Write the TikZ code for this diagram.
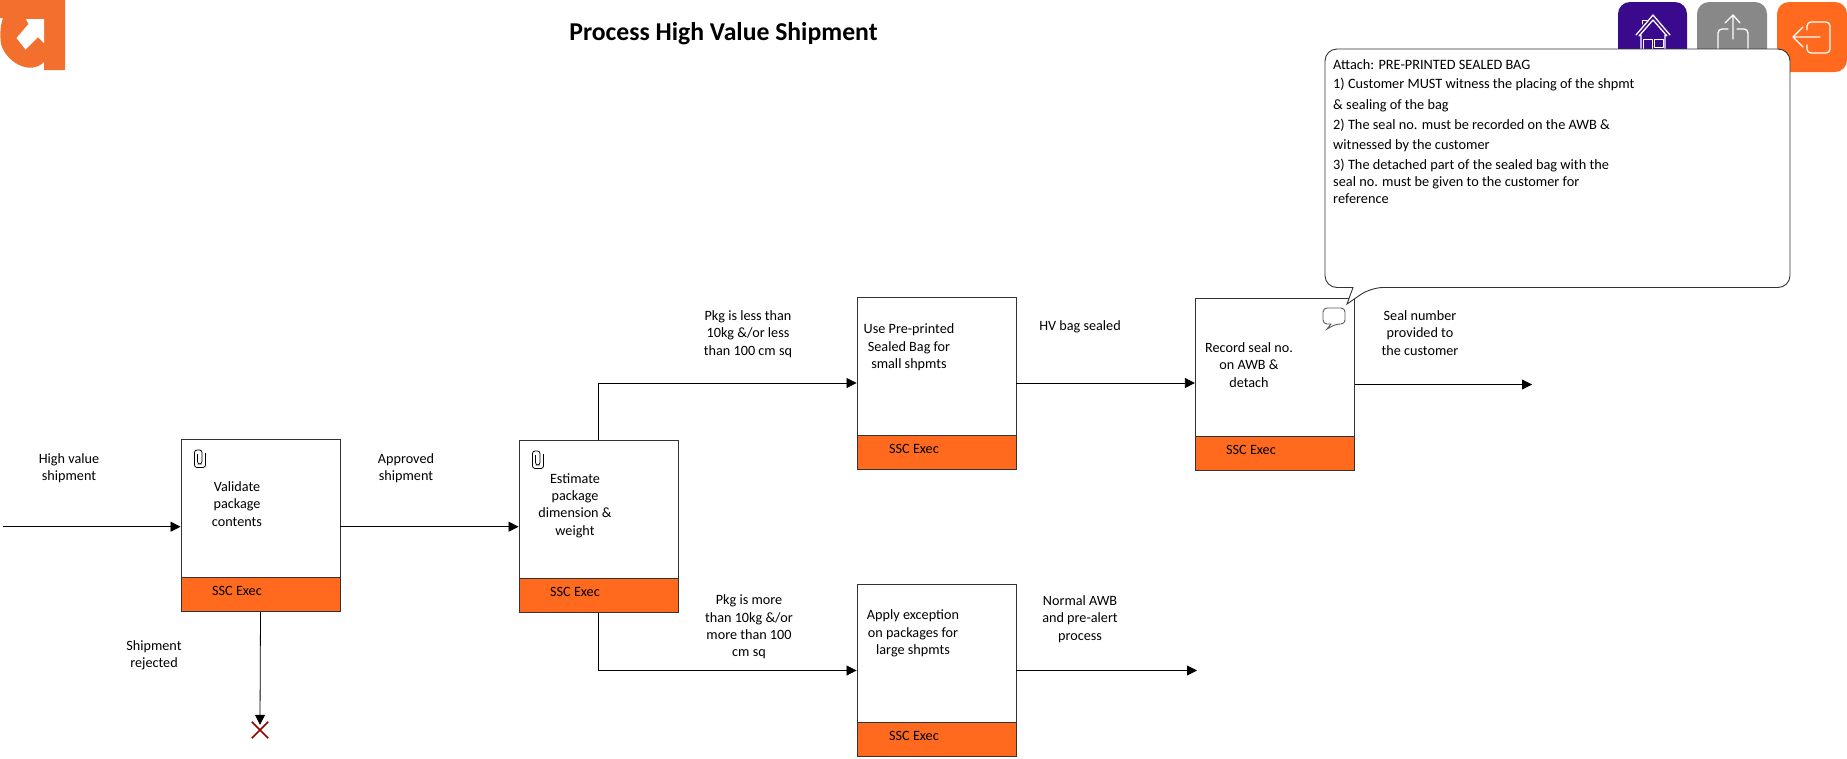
\documentclass[tikz,border=0pt]{standalone}
\usepackage{fontspec}
\setmainfont{Carlito}
\usetikzlibrary{arrows.meta}
\definecolor{rolefill}{HTML}{FF6A1F}
\definecolor{logofill}{HTML}{F36F2E}
\definecolor{homefill}{HTML}{3A0A8C}
\definecolor{sharefill}{HTML}{888888}
\definecolor{linegray}{HTML}{333333}
\tikzset{
  taskbox/.style={draw=linegray,fill=white,line width=0.9pt,minimum width=159pt,minimum height=172pt,inner sep=0pt},
  rolebar/.style={draw=linegray,fill=rolefill,line width=0.9pt,minimum width=159pt,minimum height=34pt,inner sep=0pt,anchor=south},
  tasktext/.style={font=\fontsize{14.2}{17.4}\selectfont,align=center,inner sep=0pt},
  flow/.style={draw=black,line width=0.8pt,-{Triangle[length=10pt,width=10pt]}},
  iconline/.style={draw=white,line width=1.3pt,line cap=round,line join=round},
  pics/clipicon/.style={code={
    \draw[line width=0.8pt,rounded corners=2.5pt] (-2.5,-4)--(-2.5,6)--(2,6)--(2,-8)--(-5.5,-8)--(-5.5,9.5)--(5.5,9.5)--(5.5,-5);
  }},
  pics/noteicon/.style={code={
    \draw[draw=gray!70!black,line width=0.9pt,rounded corners=4pt] (-3,7)--(-11,7)--(-11,-9)--(11,-9)--(11,7)--(2,7)[sharp corners]--(-7,12)--cycle;
  }}
}
\begin{document}
\begin{tikzpicture}[x=1pt,y=-1pt]
\useasboundingbox (0,0) rectangle (1847,758);
% logo
\fill[logofill] (0,18)--(3,18) .. controls (0,26) and (0,36) .. (1,44) .. controls (6,62) and (30,76) .. (44,62)--(44,70)--(65,70)--(65,0)--(0,0)--cycle;
\fill[white] (44,19)--(26,19)--(28.5,24)--(16.5,38)--(25.5,49.5)--(38,37)--(44,43)--cycle;
% buttons
\fill[homefill,rounded corners=12pt] (1618,2) rectangle (1687,72);
\fill[sharefill,rounded corners=12pt] (1697,2) rectangle (1767,72);
\fill[rolefill,rounded corners=12pt] (1777,2) rectangle (1847,72);
\draw[iconline] (1636,35)--(1653,15)--(1670,35) (1639,36)--(1653,20)--(1667,36) (1641,35)--(1641,60) (1665,35)--(1665,60);
\draw[iconline,line width=1pt] (1642,24)--(1642,20)--(1647,20);
\draw[iconline,line width=1pt] (1643,60)--(1643,39)--(1652,39)--(1652,60) (1654,39) rectangle (1663,47);
\draw[iconline] (1733,39)--(1733,15) (1725,23)--(1733,15)--(1740,23);
\draw[iconline,rounded corners=4pt] (1718,52)--(1718,29)--(1728,29) (1737,29)--(1748,29)--(1748,52);
\draw[iconline] (1820,37)--(1793,37) (1803,27)--(1793,37)--(1803,47);
\draw[iconline,rounded corners=4pt] (1807,30)--(1807,22)--(1830,22)--(1830,53)--(1807,53)--(1807,45);
\node[font=\fontsize{25.7}{30}\bfseries\selectfont,inner sep=0pt] (pageTitle) at (723.5,33.5) {Process High Value Shipment};
% boxes
\node[taskbox] (validate) at (260.5,525.3) {};
\node[rolebar] (validateRole) at (validate.south) {};
\node[tasktext] (validateText) at (237,504) {Validate\\package\\contents};
\node[tasktext] (validateExec) at (237,591) {SSC Exec};
\node[taskbox] (estimate) at (598.5,526.7) {};
\node[rolebar] (estimateRole) at (estimate.south) {};
\node[tasktext] (estimateText) at (575,505.5) {Estimate\\package\\dimension \&\\weight};
\node[tasktext] (estimateExec) at (575,592) {SSC Exec};
\node[taskbox] (preprinted) at (936.5,383) {};
\node[rolebar] (preprintedRole) at (preprinted.south) {};
\node[tasktext] (preprintedText) at (909,347.5) {Use Pre-printed\\Sealed Bag for\\small shpmts};
\node[tasktext] (preprintedExec) at (914,449) {SSC Exec};
\node[taskbox] (exception) at (936.5,670.5) {};
\node[rolebar] (exceptionRole) at (exception.south) {};
\node[tasktext] (exceptionText) at (913,633.5) {Apply exception\\on packages for\\large shpmts};
\node[tasktext] (exceptionExec) at (914,736) {SSC Exec};
\node[taskbox] (record) at (1274.8,384.5) {};
\node[rolebar] (recordRole) at (record.south) {};
\node[tasktext] (recordText) at (1249,365) {Record seal no.\\on AWB \&\\detach};
\node[tasktext] (recordExec) at (1251,450) {SSC Exec};
\pic at (200,458) {clipicon};
\pic at (538,459) {clipicon};
% flow
\coordinate (inStart) at (3,526.7);
\coordinate (recordEnd) at (1532,384.5);
\coordinate (exceptionEnd) at (1197,670.5);
\node[draw=none,inner sep=0pt,minimum size=16pt] (rejectEnd) at (260,730) {};
\draw[flow] (inStart)--(validate.west |- inStart);
\draw[flow] (validate.east |- estimate.west)--(estimate.west);
\draw[flow] (estimate.north) |- (preprinted.west);
\draw[flow] (estimate.south) |- (exception.west);
\draw[flow] (preprinted.east)--(record.west |- preprinted.east);
\draw[flow] (record.east)--(recordEnd);
\draw[flow] (exception.east)--(exceptionEnd);
\draw[flow,shorten >=-3pt] (validate.south)--(rejectEnd.north);
\draw[draw=red!60!black,line width=1.6pt] (rejectEnd.north west)--(rejectEnd.south east) (rejectEnd.north east)--(rejectEnd.south west);
% labels
\node[tasktext] (highValue) at (69,468) {High value\\shipment};
\node[tasktext] (approved) at (406,468) {Approved\\shipment};
\node[tasktext] (rejected) at (154,655) {Shipment\\rejected};
\node[tasktext] (pkgLess) at (748,334) {Pkg is less than\\10kg \&/or less\\than 100 cm sq};
\node[tasktext] (pkgMore) at (749,627) {Pkg is more\\than 10kg \&/or\\more than 100\\cm sq};
\node[tasktext] (bagSealed) at (1080,327) {HV bag sealed};
\node[tasktext] (sealNumber) at (1420,333) {Seal number\\provided to\\the customer};
\node[tasktext] (normalAwb) at (1080,619) {Normal AWB\\and pre-alert\\process};
% callout
\draw[draw=linegray,fill=white,line width=0.9pt,rounded corners=12pt] (1353,287.5)--(1325,287.5)--(1325,49)--(1790,49)--(1790,287.5)--(1371,287.5)[sharp corners]--(1347,304)--cycle;
\pic at (1334,317) {noteicon};
\node[font=\fontsize{14.3}{17}\selectfont,align=left,anchor=north west,inner sep=0pt] (calloutText) at (1333,59.5) {Attach: PRE-PRINTED SEALED BAG\\[2pt]
1) Customer MUST witness the placing of the shpmt\\[4pt]
\& sealing of the bag\\[3pt]
2) The seal no. must be recorded on the AWB \&\\[3pt]
witnessed by the customer\\[3pt]
3) The detached part of the sealed bag with the\\
seal no. must be given to the customer for\\
reference};
\end{tikzpicture}
\end{document}
